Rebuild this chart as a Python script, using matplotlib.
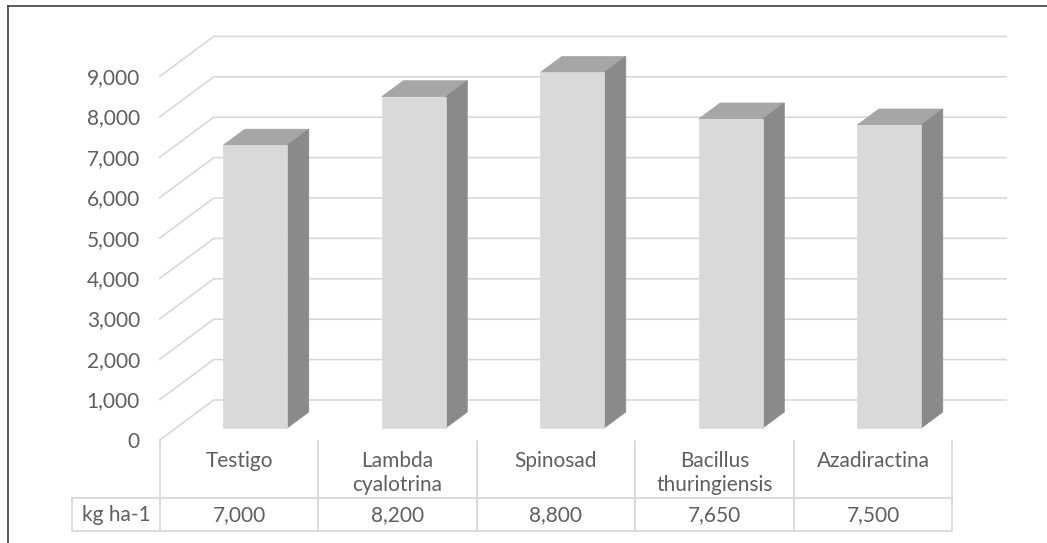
import matplotlib
matplotlib.use("Agg")
import matplotlib.pyplot as plt
from matplotlib.patches import Polygon
from matplotlib.lines import Line2D

# ---- data ----
categories = ["Testigo", "Lambda\ncyalotrina", "Spinosad", "Bacillus\nthuringiensis", "Azadiractina"]
values = [7000, 8200, 8800, 7650, 7500]
value_labels = ["7,000", "8,200", "8,800", "7,650", "7,500"]
yticks = [0, 1000, 2000, 3000, 4000, 5000, 6000, 7000, 8000, 9000]
ytick_labels = ["0", "1,000", "2,000", "3,000", "4,000", "5,000", "6,000", "7,000", "8,000", "9,000"]
row_label = "kg ha-1"

# ---- style / layout ----
W, H = 1047, 543
TXT = "#5f5f5f"
GRID = "#d9d9d9"
FRONT, TOP, SIDE = "#d9d9d9", "#a6a6a6", "#8a8a8a"
FONT = ["Lato", "DejaVu Sans"]
FS = 15
FW = "normal"

# pixel mapping of the front plane (used only to set axis limits)
PX0, PXS = 239.0, 158.5      # px of category 0, px per category
PY0, PYS = 440.0, 0.0404     # py of value 0, px per value unit

fig = plt.figure(figsize=(W / 100, H / 100), dpi=100)
ax = fig.add_axes([0, 0, 1, 1])
ax.set_xlim(-PX0 / PXS, (W - PX0) / PXS)
ax.set_ylim((PY0 - H) / PYS, PY0 / PYS)
ax.axis("off")

def cx(px):
    return (px - PX0) / PXS

def vy(py):
    return (PY0 - py) / PYS

# depth vector (per full depth)
DX, DY = 54 / PXS, 40 / PYS

def P(c, v, d):
    return (c + d * DX, v + d * DY)

n = len(categories)
left, right = -0.5, n - 0.5

# gridlines: diagonal on the left side wall + horizontal on back wall
for v in yticks:
    a = P(left, v, 0); b = P(left, v, 1); c2 = P(right, v, 1)
    ax.plot([a[0], b[0], c2[0]], [a[1], b[1], c2[1]], color=GRID, lw=1.2,
            solid_joinstyle="miter", zorder=1)

# y tick labels
for v, lab in zip(yticks, ytick_labels):
    ax.text(cx(140), v - 40, lab, ha="right", va="center", color=TXT,
            fontsize=FS, family=FONT, fontweight=FW, zorder=5)

# 3D bars
bw = 64 / PXS
d0, d1 = 0.3, 0.7
for i, v in enumerate(values):
    xl, xr = i - bw / 2, i + bw / 2
    top = Polygon([P(xl, v, d0), P(xr, v, d0), P(xr, v, d1), P(xl, v, d1)],
                  closed=True, facecolor=TOP, edgecolor=TOP, lw=0.5, zorder=3)
    side = Polygon([P(xr, 0, d0), P(xr, v, d0), P(xr, v, d1), P(xr, 0, d1)],
                   closed=True, facecolor=SIDE, edgecolor=SIDE, lw=0.5, zorder=3)
    front = Polygon([P(xl, 0, d0), P(xr, 0, d0), P(xr, v, d0), P(xl, v, d0)],
                    closed=True, facecolor=FRONT, edgecolor=FRONT, lw=0.5, zorder=4)
    for p in (top, side, front):
        ax.add_patch(p)

# data table
y_top, y_mid, y_bot = vy(441), vy(498), vy(531)
x_hdr = cx(72)
tl = dict(color=GRID, lw=1.3, zorder=2)
for k in range(n + 1):
    ax.plot([k - 0.5, k - 0.5], [y_top, y_bot], **tl)
ax.plot([x_hdr, right], [y_mid, y_mid], **tl)
ax.plot([x_hdr, right], [y_bot, y_bot], **tl)
ax.plot([x_hdr, x_hdr], [y_mid, y_bot], **tl)

for i, (cat, lab) in enumerate(zip(categories, value_labels)):
    ax.text(i, vy(451), cat, ha="center", va="top", color=TXT, fontsize=FS,
            family=FONT, fontweight=FW, linespacing=1.25, zorder=5)
    ax.text(i, vy(515), lab, ha="center", va="center", color=TXT, fontsize=FS,
            family=FONT, fontweight=FW, zorder=5)
ax.text((x_hdr - 0.5) / 2, vy(515), row_label, ha="center", va="center",
        color=TXT, fontsize=FS, family=FONT, fontweight=FW, zorder=5)

# outer chart frame (left and top edges visible)
fig.add_artist(Line2D([8 / W, 8 / W], [0, 1 - 6 / H], color="#404040", lw=1.2,
                      transform=fig.transFigure))
fig.add_artist(Line2D([8 / W, 1], [1 - 6 / H, 1 - 6 / H], color="#404040", lw=1.2,
                      transform=fig.transFigure))

fig.savefig("out.png", dpi=100)
